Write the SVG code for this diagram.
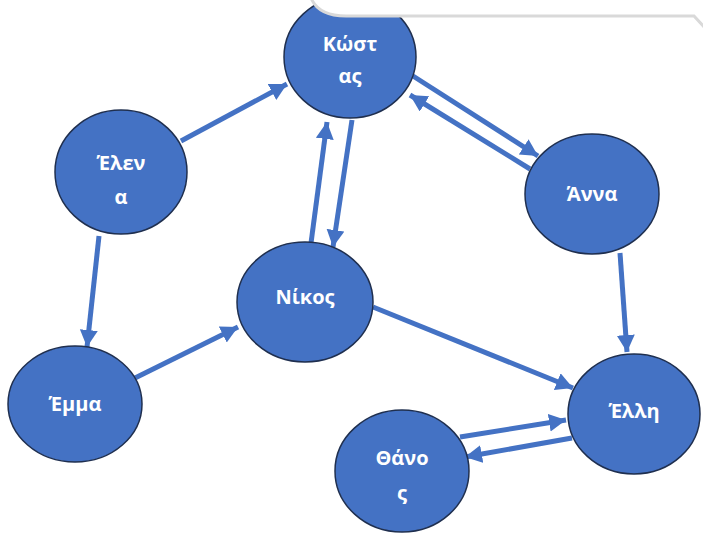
<svg xmlns="http://www.w3.org/2000/svg" width="703" height="539" viewBox="0 0 703 539">
  <defs>
    <marker id="arrow" markerUnits="userSpaceOnUse" markerWidth="20" markerHeight="20" refX="17" refY="9" orient="auto">
      <path d="M0,0 L17,9 L0,18 Z" fill="#4472C4"/>
    </marker>
  </defs>
  <style>
    .node ellipse { fill: #4472C4; stroke: #1F2F4F; stroke-width: 1.5; }
    .node text { fill: #FFFFFF; font-family: "Open Sans", "Liberation Sans", sans-serif; font-weight: 700; font-size: 20px; text-anchor: middle; }
    .edge { stroke: #4472C4; stroke-width: 5; fill: none; marker-end: url(#arrow); }
  </style>
  <rect width="703" height="539" fill="#FFFFFF"/>

  <g id="connectors">
    <line class="edge" x1="181" y1="141" x2="287" y2="84"/>
    <line class="edge" x1="99" y1="236" x2="87" y2="347"/>
    <line class="edge" x1="135" y1="378" x2="238" y2="327"/>
    <line class="edge" x1="311" y1="243" x2="327" y2="122"/>
    <line class="edge" x1="352" y1="120" x2="333" y2="247"/>
    <line class="edge" x1="413" y1="76" x2="538" y2="156"/>
    <line class="edge" x1="530" y1="169" x2="410" y2="95"/>
    <line class="edge" x1="620" y1="253" x2="627" y2="352"/>
    <line class="edge" x1="373" y1="307" x2="573" y2="388"/>
    <line class="edge" x1="460" y1="437" x2="566" y2="420"/>
    <line class="edge" x1="572" y1="438" x2="465" y2="457"/>
  </g>

  <g id="kostas" class="node">
    <ellipse cx="350" cy="57" rx="66" ry="61"/>
    <text x="350" y="51">Κώστ</text>
    <text x="350" y="83">ας</text>
  </g>
  <g id="elena" class="node">
    <ellipse cx="121" cy="172" rx="66" ry="62"/>
    <text x="121" y="170">Έλεν</text>
    <text x="121" y="204">α</text>
  </g>
  <g id="anna" class="node">
    <ellipse cx="592" cy="194" rx="67" ry="60"/>
    <text x="592" y="201">Άννα</text>
  </g>
  <g id="nikos" class="node">
    <ellipse cx="305" cy="302" rx="68" ry="60"/>
    <text x="305" y="304">Νίκος</text>
  </g>
  <g id="emma" class="node">
    <ellipse cx="75" cy="404" rx="67" ry="58"/>
    <text x="75" y="411">Έμμα</text>
  </g>
  <g id="elli" class="node">
    <ellipse cx="634" cy="414" rx="66" ry="60"/>
    <text x="634" y="418">Έλλη</text>
  </g>
  <g id="thanos" class="node">
    <ellipse cx="402" cy="471" rx="67" ry="61"/>
    <text x="402" y="465">Θάνο</text>
    <text x="402" y="500">ς</text>
  </g>

  <!-- white panel overlapping the top edge, with its grey rim -->
  <path d="M311,-2 C316,10 328,16 346,16 L694,16 L705,28 L705,-2 Z" fill="#FFFFFF"/>
  <path d="M311,-2 C316,10 328,16 346,16 L694,16 L705,28" fill="none" stroke="#D9D9D9" stroke-width="3"/>
</svg>
